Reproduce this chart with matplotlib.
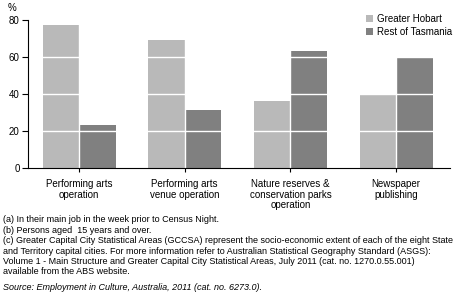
import matplotlib
matplotlib.use("Agg")
import matplotlib.pyplot as plt
import numpy as np

categories = ["Performing arts\noperation", "Performing arts\nvenue operation",
              "Nature reserves &\nconservation parks\noperation", "Newspaper\npublishing"]
hobart = [77.3, 69.2, 36.4, 39.6]
rest_tas = [23.2, 31.4, 63.2, 60.0]
series_names = ["Greater Hobart", "Rest of Tasmania"]
yticks = [0, 20, 40, 60, 80]

footnote_lines = [
    "(a) In their main job in the week prior to Census Night.",
    "(b) Persons aged  15 years and over.",
    "(c) Greater Capital City Statistical Areas (GCCSA) represent the socio-economic extent of each of the eight State",
    "and Territory capital cities. For more information refer to Australian Statistical Geography Standard (ASGS):",
    "Volume 1 - Main Structure and Greater Capital City Statistical Areas, July 2011 (cat. no. 1270.0.55.001)",
    "available from the ABS website.",
]
source = "Source: Employment in Culture, Australia, 2011 (cat. no. 6273.0)."

plt.rcParams['font.family'] = ['Liberation Sans Narrow', 'Liberation Sans', 'DejaVu Sans']

W, H = 454, 302
fig = plt.figure(figsize=(W / 100, H / 100), dpi=100)
ax = fig.add_axes([28 / W, (H - 168) / H, (450 - 28) / W, 148 / H])

light = "#b9b9b9"
dark = "#808080"
x = np.arange(len(categories))
bw = 0.345
ax.bar(x - bw / 2, hobart, bw, color=light, label=series_names[0], zorder=1)
ax.bar(x + bw / 2, rest_tas, bw, color=dark, label=series_names[1], zorder=1)
# white separators between bars and white grid over bars
for xi in x:
    ax.axvline(xi, color="white", lw=1, zorder=2)
for yv in yticks[1:-1]:
    ax.axhline(yv, color="white", lw=1, zorder=2)

ax.set_xlim(-0.483, 3.51)
ax.set_ylim(0, 80)
ax.set_yticks(yticks)
ax.set_xticks(x)
ax.set_xticklabels(categories, fontsize=7, linespacing=1.05)
ax.tick_params(axis="y", labelsize=7, length=4, width=0.8, pad=2)
ax.tick_params(axis="x", length=3, width=0.8, pad=5)
for s in ["top", "right"]:
    ax.spines[s].set_visible(False)
for s in ["left", "bottom"]:
    ax.spines[s].set_linewidth(0.8)

fig.text(8 / W, 1 - 8 / H, "%", fontsize=7, va="center", ha="left")

leg = ax.legend(loc="upper left", bbox_to_anchor=(361 / W, 1 - 9 / H), bbox_transform=fig.transFigure,
                frameon=False, fontsize=7, handlelength=0.7, handleheight=0.7,
                handletextpad=0.4, labelspacing=0.3, borderpad=0)

y = 220
for line in footnote_lines:
    fig.text(3 / W, 1 - y / H, line, fontsize=6.5, va="center", ha="left")
    y += 10.4
fig.text(3 / W, 1 - 288 / H, source, fontsize=6.5, va="center", ha="left", style="italic")

fig.savefig("out.png", dpi=100)
